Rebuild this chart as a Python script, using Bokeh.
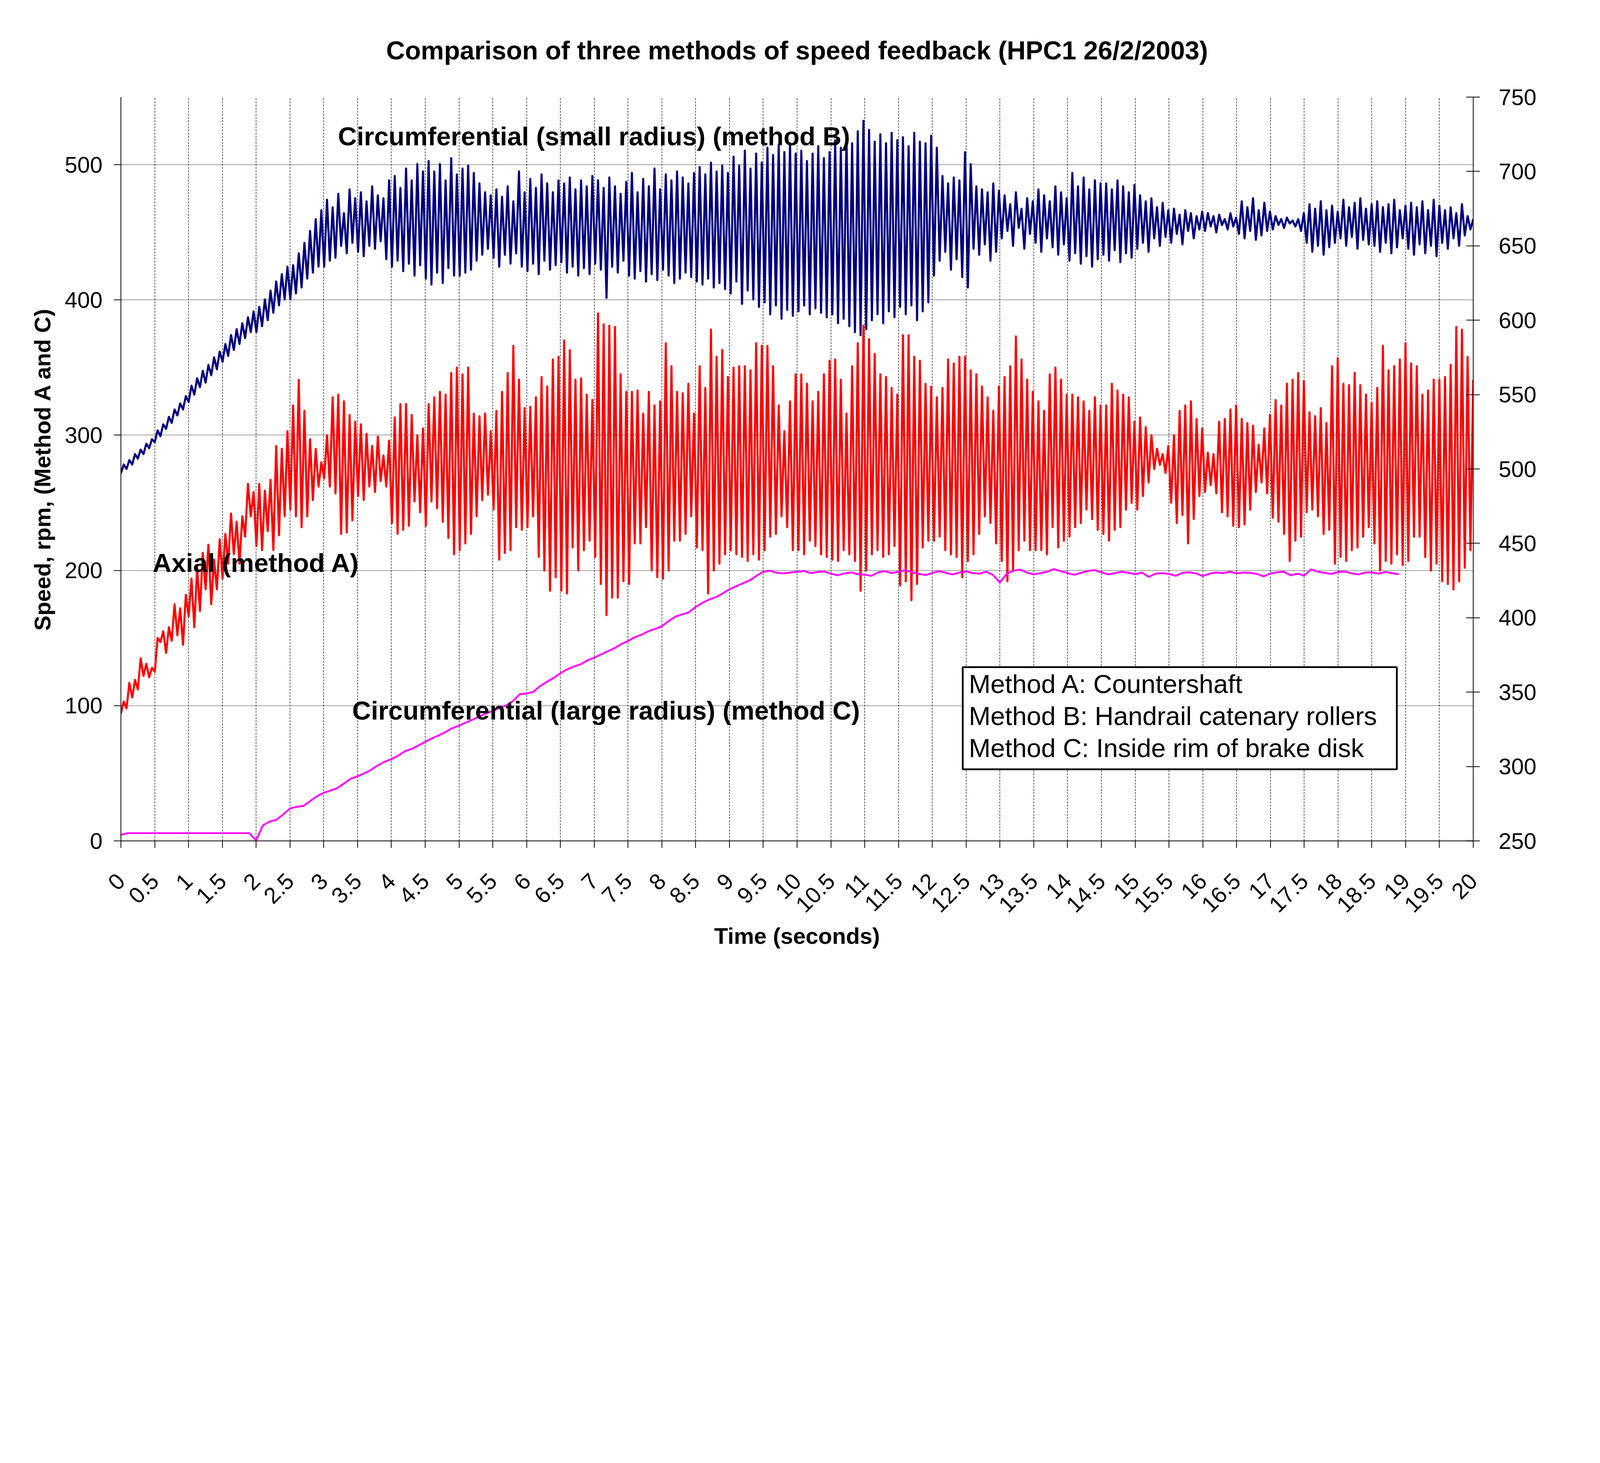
import math
import numpy as np
from bokeh.plotting import figure
from bokeh.models import LinearAxis, Range1d, FixedTicker, ColumnDataSource, Label
from bokeh.embed import file_html
from bokeh.resources import INLINE

# ---------------- texts ----------------
TITLE = "Comparison of three methods of speed feedback (HPC1 26/2/2003)"
X_LABEL = "Time (seconds)"
Y_LEFT_LABEL = "Speed, rpm, (Method A and C)"
Y_RIGHT_LABEL = "Speed, rpm, (Method B)"

X_TICK_LABELS = ["0", "0.5", "1", "1.5", "2", "2.5", "3", "3.5", "4", "4.5", "5",
                 "5.5", "6", "6.5", "7", "7.5", "8", "8.5", "9", "9.5", "10",
                 "10.5", "11", "11.5", "12", "12.5", "13", "13.5", "14", "14.5", "15",
                 "15.5", "16", "16.5", "17", "17.5", "18", "18.5", "19", "19.5", "20"]
LEFT_TICKS = [0, 100, 200, 300, 400, 500]
RIGHT_TICKS = [250, 300, 350, 400, 450, 500, 550, 600, 650, 700, 750]

ANNOT_TEXT = ["Circumferential (small radius) (method B)",
              "Axial (method A)",
              "Circumferential (large radius) (method C)"]
ANNOT_X = [3.21, 0.47, 3.42]
ANNOT_Y = [514.4, 199.0, 90.0]      # baselines

NOTE_LINES = ["Method A:  Countershaft",
              "Method B:  Handrail catenary rollers",
              "Method C:  Inside rim of brake disk"]
NOTE_X = [12.54, 12.54, 12.54]
NOTE_Y = [109.5, 85.8, 62.1]        # baselines
NOTE_BOX = dict(left=12.45, right=18.87, bottom=52.9, top=128.5)

# ---------------- data ----------------
# Method B (right axis), rows of half a second, alternating samples
METHOD_B = [
    [497, 503, 500, 506, 503, 510, 507, 513, 510, 517, 514, 520],
    [518, 526, 522, 530, 527, 535, 531, 540, 536, 544, 540, 549],
    [545, 556, 550, 561, 555, 566, 558, 570, 563, 575, 567, 579],
    [572, 584, 576, 590, 580, 594, 584, 598, 588, 602, 592, 606],
    [592, 609, 596, 614, 600, 620, 605, 626, 610, 631, 614, 636],
    [614, 637, 618, 645, 622, 652, 628, 660, 632, 668, 636, 674],
    [636, 681, 640, 676, 642, 685, 650, 672, 645, 688, 652, 682],
    [646, 686, 643, 680, 650, 690, 648, 684, 653, 682, 641, 694],
    [636, 697, 640, 689, 633, 702, 638, 694, 630, 705, 637, 700],
    [628, 707, 624, 700, 632, 705, 625, 694, 635, 709, 630, 698],
    [630, 702, 632, 704, 634, 699, 640, 692, 644, 686, 648, 684],
    [642, 688, 636, 683, 644, 690, 638, 680, 645, 700, 636, 686],
    [633, 695, 638, 689, 631, 698, 640, 692, 634, 686, 637, 694],
    [639, 692, 632, 696, 636, 688, 630, 694, 635, 690, 631, 697],
    [638, 694, 634, 689, 615, 696, 636, 690, 632, 685, 640, 693],
    [630, 699, 628, 686, 633, 695, 626, 690, 631, 702, 627, 688],
    [634, 698, 630, 694, 625, 700, 628, 696, 632, 692, 629, 699],
    [626, 703, 624, 698, 628, 706, 622, 700, 625, 704, 621, 699],
    [618, 710, 626, 704, 611, 714, 620, 702, 614, 712, 609, 706],
    [612, 716, 604, 711, 610, 718, 601, 713, 607, 719, 603, 712],
    [606, 714, 610, 707, 604, 712, 608, 717, 605, 709, 602, 713],
    [604, 721, 598, 716, 601, 724, 596, 719, 592, 727, 590, 734],
    [594, 728, 600, 720, 604, 725, 598, 719, 606, 726, 602, 721],
    [609, 723, 604, 717, 610, 726, 600, 720, 606, 719, 612, 724],
    [630, 716, 640, 697, 646, 692, 634, 696, 641, 694, 629, 713],
    [622, 705, 648, 690, 644, 688, 651, 686, 640, 692, 646, 687],
    [655, 684, 660, 678, 650, 686, 662, 675, 648, 682, 658, 680],
    [652, 688, 646, 684, 655, 680, 649, 690, 644, 686, 651, 682],
    [640, 699, 645, 690, 638, 696, 643, 688, 636, 694, 641, 692],
    [644, 692, 640, 688, 647, 694, 639, 690, 645, 686, 642, 691],
    [648, 684, 652, 680, 646, 682, 655, 676, 650, 679, 656, 674],
    [652, 675, 658, 671, 651, 674, 660, 672, 655, 670, 661, 673],
    [660, 672, 663, 670, 659, 671, 664, 668, 661, 672, 663, 669],
    [658, 680, 655, 676, 660, 682, 654, 674, 657, 679, 660, 673],
    [661, 670, 664, 668, 662, 669, 665, 667, 663, 668, 660, 672],
    [652, 678, 646, 675, 650, 680, 644, 674, 649, 677, 652, 673],
    [655, 681, 650, 676, 656, 679, 648, 682, 654, 675, 651, 678],
    [650, 680, 646, 676, 652, 678, 645, 681, 649, 674, 655, 677],
    [648, 679, 644, 676, 651, 680, 645, 674, 650, 681, 643, 677],
    [652, 674, 648, 676, 655, 672, 650, 678, 657, 670, 661, 668],
]

# Method A (left axis)
METHOD_A = [
    [94, 103, 98, 117, 106, 119, 112, 135, 122, 131, 121, 128],
    [125, 150, 147, 155, 139, 158, 148, 175, 152, 172, 145, 182],
    [166, 194, 158, 202, 170, 213, 186, 219, 175, 208, 186, 223],
    [194, 227, 205, 242, 212, 236, 205, 240, 225, 264, 240, 258],
    [218, 264, 215, 259, 229, 267, 215, 292, 226, 290, 240, 303],
    [245, 322, 240, 341, 232, 318, 240, 297, 252, 290, 262, 280],
    [268, 300, 262, 328, 257, 330, 227, 325, 228, 315, 237, 310],
    [255, 308, 252, 301, 262, 292, 258, 299, 266, 285, 262, 296],
    [235, 313, 227, 323, 230, 323, 233, 315, 251, 300, 243, 305],
    [233, 323, 251, 328, 246, 332, 236, 330, 224, 346, 212, 350],
    [215, 345, 220, 350, 227, 316, 240, 314, 252, 316, 256, 303],
    [245, 318, 208, 332, 213, 346, 215, 366, 232, 341, 230, 320],
    [232, 321, 240, 328, 210, 343, 200, 336, 185, 356, 195, 358],
    [185, 370, 183, 363, 217, 341, 200, 342, 215, 330, 222, 326],
    [210, 390, 190, 382, 167, 381, 180, 380, 180, 345, 192, 332],
    [190, 332, 220, 333, 220, 316, 232, 332, 200, 322, 195, 325],
    [194, 368, 200, 351, 222, 332, 222, 331, 227, 338, 240, 316],
    [217, 351, 215, 335, 183, 378, 200, 358, 205, 363, 212, 343],
    [215, 350, 212, 351, 210, 351, 207, 348, 212, 368, 208, 366],
    [215, 366, 225, 351, 227, 322, 240, 303, 232, 325, 215, 345],
    [215, 345, 212, 338, 222, 325, 218, 332, 212, 345, 210, 355],
    [208, 356, 207, 341, 215, 316, 212, 351, 207, 368, 185, 381],
    [200, 371, 212, 360, 215, 345, 210, 343, 212, 335, 218, 330],
    [189, 374, 192, 374, 178, 358, 190, 355, 217, 338, 222, 336],
    [222, 328, 225, 335, 215, 356, 212, 353, 210, 358, 195, 358],
    [207, 348, 212, 345, 227, 336, 240, 328, 235, 318, 220, 336],
    [207, 343, 192, 351, 200, 373, 215, 356, 222, 341, 215, 332],
    [215, 325, 215, 318, 212, 345, 232, 350, 217, 341, 222, 330],
    [225, 330, 232, 328, 235, 325, 245, 318, 238, 328, 230, 322],
    [227, 322, 222, 338, 230, 333, 232, 330, 245, 328, 250, 310],
    [245, 313, 255, 306, 265, 300, 275, 290, 278, 286, 272, 292],
    [250, 300, 235, 318, 241, 322, 220, 325, 238, 312, 255, 305],
    [258, 287, 263, 286, 257, 310, 243, 312, 240, 319, 233, 322],
    [232, 312, 234, 309, 245, 307, 258, 293, 265, 305, 257, 315],
    [239, 326, 236, 322, 227, 338, 207, 341, 222, 346, 225, 340],
    [243, 317, 245, 314, 240, 320, 227, 309, 230, 351, 205, 357],
    [210, 338, 207, 337, 215, 346, 217, 337, 225, 330, 232, 324],
    [220, 335, 200, 366, 207, 348, 205, 351, 212, 356, 204, 368],
    [207, 353, 225, 351, 225, 330, 210, 333, 200, 341, 205, 341],
    [192, 343, 190, 352, 186, 380, 192, 378, 202, 358, 215, 341],
]

# Method C (left axis), one value every 0.1 s from 0 to 18.9 s
METHOD_C = [
    4.5, 5.7, 5.7, 5.7, 5.7, 5.7, 5.7, 5.7, 5.7, 5.7,
    5.7, 5.7, 5.7, 5.7, 5.7, 5.7, 5.7, 5.7, 5.7, 5.7,
    0.3, 11.5, 14.3, 15.6, 19.5, 24.0, 25.2, 25.8, 29.5, 33.0,
    35.6, 37.2, 39.0, 42.5, 46.0, 47.8, 50.0, 52.5, 55.9, 58.5,
    60.5, 63.0, 66.3, 68.0, 70.5, 73.2, 75.8, 78.0, 80.5, 83.3,
    85.2, 87.5, 89.6, 92.0, 94.3, 96.0, 98.5, 100.2, 103.5, 108.5,
    109.0, 110.2, 114.5, 117.6, 120.5, 124.0, 126.8, 129.0, 130.6, 133.5,
    135.5, 137.8, 140.2, 142.5, 145.5, 147.8, 150.6, 152.5, 155.0, 156.8,
    158.6, 162.5, 165.8, 167.5, 169.0, 173.0, 176.0, 178.5, 180.2, 183.0,
    186.0, 188.3, 190.5, 192.6, 196.0, 199.0, 199.8, 198.2, 197.8, 198.4,
    199.0, 199.6, 198.0, 198.8, 199.2, 197.6, 196.4, 197.8, 198.5, 197.2,
    196.8, 196.0, 198.6, 199.4, 198.0, 199.0, 200.2, 198.6, 197.4, 196.6,
    198.0, 199.5, 198.2, 197.0, 198.4, 199.2, 198.0, 197.6, 199.0, 196.5,
    191.0, 197.5, 199.8, 200.6, 198.4, 197.0, 198.0, 199.0, 201.0, 199.4,
    198.0, 196.8, 198.2, 199.6, 200.2, 198.6, 197.0, 198.0, 199.0, 198.2,
    197.2, 198.4, 195.2, 197.6, 198.0, 197.4, 196.0, 198.2, 198.6, 197.8,
    195.8, 197.6, 198.4, 198.0, 199.0, 197.8, 198.4, 198.2, 197.4, 195.6,
    197.8, 198.6, 199.0, 196.4, 197.6, 196.2, 200.8, 199.0, 198.2, 197.4,
    198.8, 199.2, 197.8, 197.0, 198.4, 198.6, 197.6, 198.8, 198.0, 197.2,
]
C_STEP = 0.1

# ---------------- figure (CSS pixels; the page is shown at about 1.5x) ----------------
FONT = "Liberation Sans"
BIG = "50pt"                        # title, annotations, notes
MID = "58px"                        # axis texts
FRAME_H = 1904
PX_PER_UNIT = FRAME_H / 550.0
DESC = 14.7 / PX_PER_UNIT           # descent of the big font, in left-axis units

b_vals = np.array(METHOD_B, dtype=float).ravel()
a_vals = np.array(METHOD_A, dtype=float).ravel()
t_ab = np.linspace(0.0, 20.0, len(b_vals))
t_c = np.arange(len(METHOD_C)) * C_STEP

p = figure(width=4049, height=2480, output_backend="svg", toolbar_location=None,
           tools="",
           x_range=Range1d(0, 20), y_range=Range1d(0, 550),
           min_border_left=309, min_border_right=278,
           min_border_top=248, min_border_bottom=328,
           background_fill_color="white", border_fill_color="white")
p.outline_line_color = None
p.extra_y_ranges = {"right": Range1d(250, 750)}

p.title.text = TITLE
p.title.align = "center"
p.title.text_font = FONT
p.title.text_font_size = BIG
p.title.text_font_style = "bold"
p.title.text_color = "black"
p.title.standoff = 165

x_ticks = [float(s) for s in X_TICK_LABELS]
xa = p.xaxis[0]
xa.ticker = FixedTicker(ticks=x_ticks)
xa.major_label_overrides = {float(s): s for s in X_TICK_LABELS}
xa.major_label_orientation = math.pi / 4
xa.axis_label = X_LABEL
xa.minor_tick_line_color = None
xa.major_tick_in = 0
xa.major_tick_out = 18

ya = p.yaxis[0]
ya.ticker = FixedTicker(ticks=LEFT_TICKS)
ya.axis_label = Y_LEFT_LABEL
ya.minor_tick_line_color = None
ya.major_tick_in = 0
ya.major_tick_out = 18

ra = LinearAxis(y_range_name="right", ticker=FixedTicker(ticks=RIGHT_TICKS))
ra.minor_tick_line_color = None
ra.major_tick_in = 18
ra.major_tick_out = 17
p.add_layout(ra, "right")

for ax in (xa, ya, ra):
    ax.axis_line_color = "black"
    ax.axis_line_width = 2
    ax.major_tick_line_color = "black"
    ax.major_tick_line_width = 2
    ax.major_label_text_font = FONT
    ax.major_label_text_font_size = MID
    ax.major_label_text_color = "black"
    ax.axis_label_text_font = FONT
    ax.axis_label_text_font_size = MID
    ax.axis_label_text_font_style = "bold"
    ax.axis_label_text_color = "black"

xa.major_label_standoff = 75
xa.axis_label_standoff = 6
ya.major_label_standoff = 29
ya.axis_label_standoff = 22
ra.major_label_standoff = 48

p.xgrid.grid_line_color = "black"
p.xgrid.grid_line_width = 1.3
p.xgrid.grid_line_dash = "5 3"
p.ygrid.grid_line_color = "black"
p.ygrid.grid_line_width = 1.3
p.ygrid.grid_line_dash = "2 2"

src_a = ColumnDataSource(dict(t=t_ab, v=a_vals))
src_b = ColumnDataSource(dict(t=t_ab, v=b_vals))
src_c = ColumnDataSource(dict(t=t_c, v=np.array(METHOD_C)))

p.line("t", "v", source=src_a, line_color="#FF0000", line_width=5.3, line_join="round")
p.line("t", "v", source=src_c, line_color="#FF00FF", line_width=4.7, line_join="round")
p.line("t", "v", source=src_b, line_color="#000080", line_width=5.3, line_join="round",
       y_range_name="right")

p.quad(left=[NOTE_BOX["left"]], right=[NOTE_BOX["right"]],
       bottom=[NOTE_BOX["bottom"]], top=[NOTE_BOX["top"]],
       fill_color="white", line_color="black", line_width=4.5)

for txt, x, y in zip(ANNOT_TEXT, ANNOT_X, ANNOT_Y):
    p.add_layout(Label(x=x, y=y - DESC, text=txt, text_font=FONT, text_font_size=BIG,
                       text_font_style="bold", text_color="black", level="glyph",
                       text_align="left", text_baseline="bottom"))
for txt, x, y in zip(NOTE_LINES, NOTE_X, NOTE_Y):
    p.add_layout(Label(x=x, y=y - DESC, text=txt, text_font=FONT, text_font_size=BIG,
                       text_color="black", text_align="left", text_baseline="bottom",
                       level="glyph"))

# right axis title, reading bottom to top like the left one
p.add_layout(Label(x=21.17, y=275, text=Y_RIGHT_LABEL, angle=math.pi / 2,
                   text_font=FONT, text_font_size=MID, text_font_style="bold",
                   text_color="black", text_align="center", text_baseline="middle"))

open("out.html", "w").write(file_html(p, INLINE))
